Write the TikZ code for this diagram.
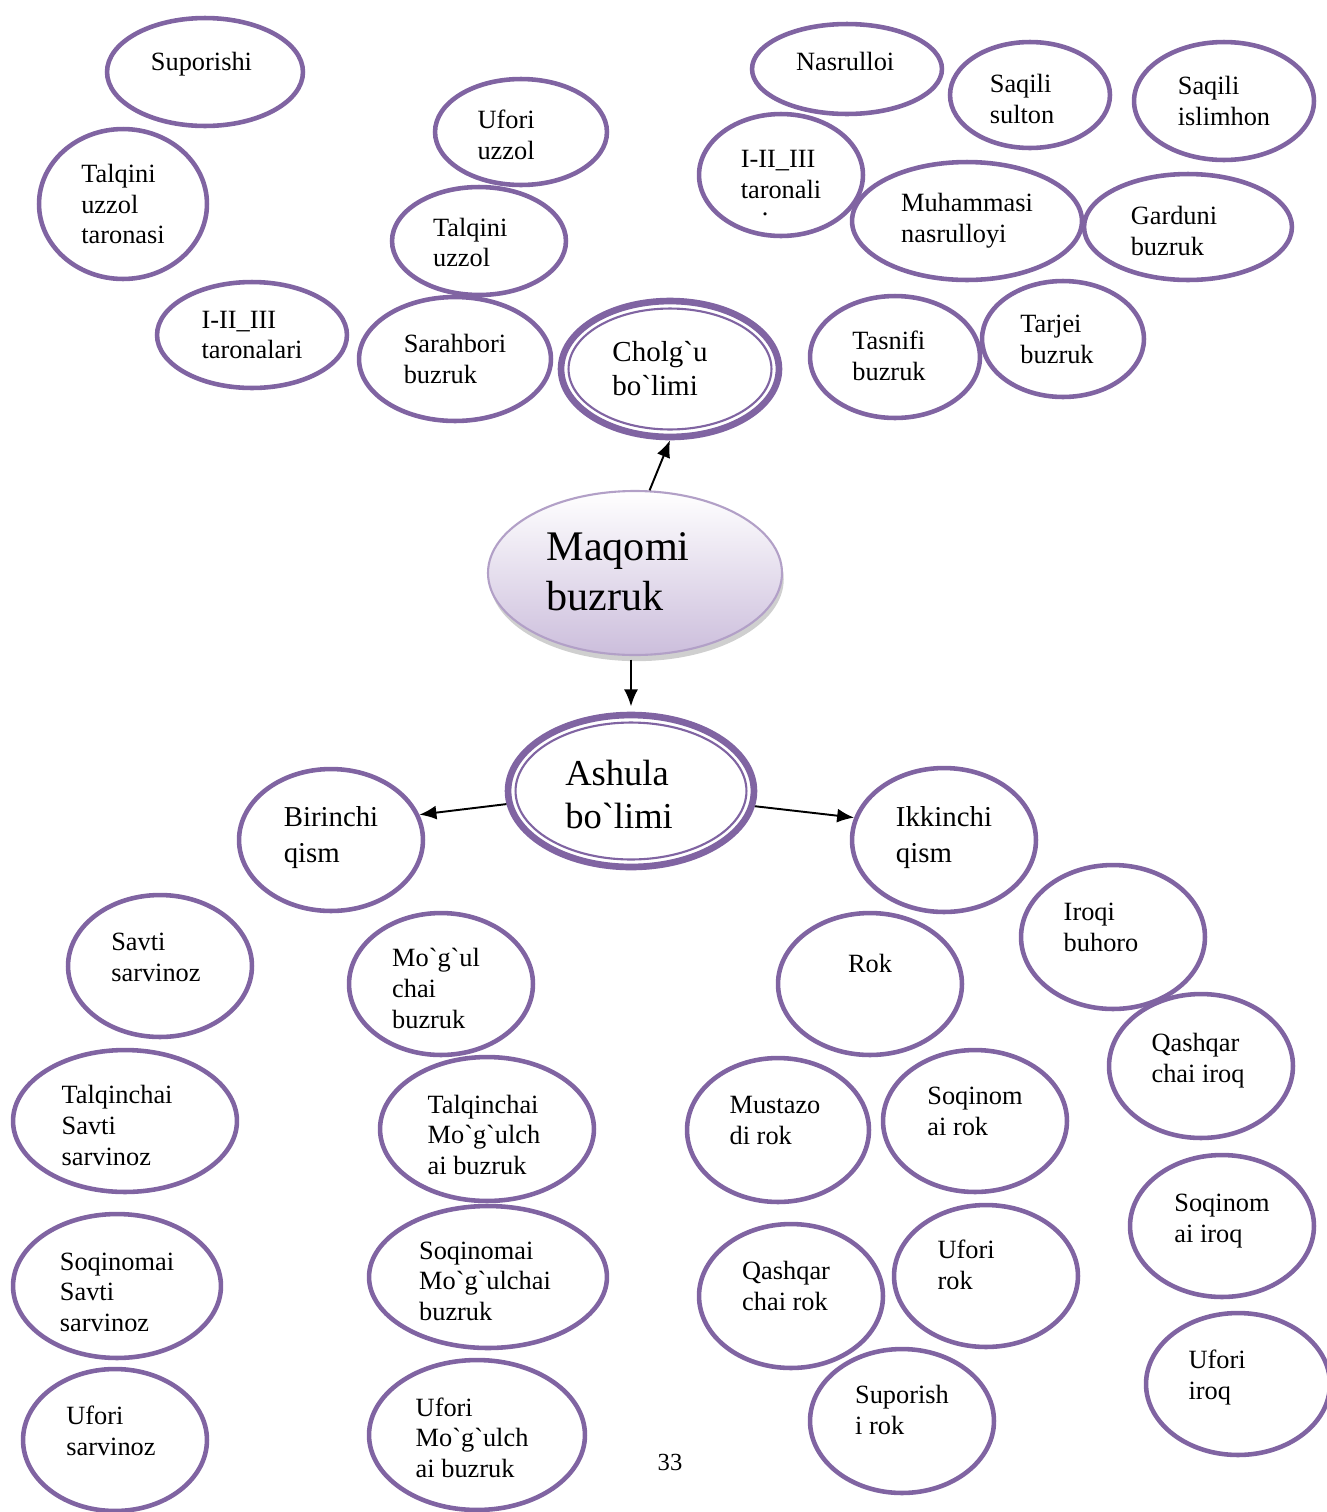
\documentclass[tikz,border=0pt]{standalone}
\usepackage{fontspec}
\setmainfont{Liberation Serif}[Ligatures=TeXOff]
\usetikzlibrary{arrows.meta,shapes.geometric,shadows}

\definecolor{ovalpurple}{RGB}{128,100,162}
\definecolor{centrefill}{RGB}{204,190,220}
\definecolor{centreline}{RGB}{178,160,199}

% text set a little off the middle of its oval: {x shift}{y shift}{lines}
\newcommand{\ovaltext}[3]{\kern#1\raisebox{\dimexpr#2-1.5pt\relax}[\height][\depth]{\begin{tabular}{@{}l@{}}#3\end{tabular}}\kern-#1\relax}

\begin{document}
\begin{tikzpicture}[
    x=0.02cm, y=-0.02cm,
    >={Latex[length=3.4mm,width=2.8mm]},
    oval/.style 2 args={ellipse, draw=ovalpurple, line width=2.6pt, fill=white, inner sep=0pt, align=left,
      minimum width=#1*0.04cm, minimum height=#2*0.04cm, font=\fontsize{15}{17.5}\selectfont},
    bigoval/.style 2 args={oval={#1}{#2}, line width=3.8pt},
    ring/.style 2 args={ellipse, draw=ovalpurple, line width=1.2pt, inner sep=0pt,
      minimum width=#1*0.04cm, minimum height=#2*0.04cm},
    link/.style={->, line width=1.1pt}
    ]
    \useasboundingbox (0,0) rectangle (1327,1512);

    % Centre: Maqomi buzruk
    \node[ellipse, draw=centreline, line width=1.2pt, top color=white, bottom color=centrefill,
      drop shadow={shadow xshift=1pt, shadow yshift=-3.5pt, fill=gray!75},
      minimum width=294*0.02cm, minimum height=164*0.02cm, align=left,
      font=\fontsize{24}{28}\selectfont] (maqomi) at (635,573) {\ovaltext{-9.6pt}{0pt}{Maqomi\\buzruk}};

    % Cholg`u bo`limi and its ovals
    \node[bigoval={109}{68}, font=\fontsize{16.5}{19.5}\selectfont] (cholgu) at (670,369) {\ovaltext{-5.7pt}{0pt}{Cholg`u\\bo`limi}};
    \node[ring={101.5}{60.5}] (cholguring) at (cholgu) {};

    \node[oval={98}{54}] (suporishi) at (205,72) {\ovaltext{-2pt}{6pt}{Suporishi}};
    \node[oval={84}{75}] (talqiniuzzoltar) at (123,204) {Talqini\\uzzol\\taronasi};
    \node[oval={95}{53}] (taronalari) at (252,335) {I-II\_III\\taronalari};
    \node[oval={86}{53}] (uforiuzzol) at (521,132) {\ovaltext{-8.5pt}{-1.7pt}{Ufori\\uzzol}};
    \node[oval={87}{54}] (talqiniuzzol) at (479,241) {\ovaltext{-5pt}{-1pt}{Talqini\\uzzol}};
    \node[oval={96}{62}] (sarahbori) at (455,359) {Sarahbori\\buzruk};

    \node[oval={95}{45}] (nasrulloi) at (847,69) {\ovaltext{-1pt}{4pt}{Nasrulloi}};
    \node[oval={80}{53}] (saqilisulton) at (1030,95) {\ovaltext{-4.5pt}{-2.3pt}{Saqili\\sulton}};
    \node[oval={90}{59}] (saqiliislimhon) at (1224,101) {Saqili\\islimhon};
    \node[oval={82}{61}] (taronali) at (781,175) {\ovaltext{0pt}{-4.5pt}{I-II\_III\\taronali\\[-8pt]\hspace{0.8em}.}};
    \node[oval={115}{59}] (muhammasi) at (967,221) {Muhammasi\\nasrulloyi};
    \node[oval={104}{53}] (garduni) at (1188,227) {\ovaltext{-8pt}{-2.3pt}{Garduni\\buzruk}};
    \node[oval={85}{61}] (tasnifi) at (895,357) {\ovaltext{-3.4pt}{0.5pt}{Tasnifi\\buzruk}};
    \node[oval={81}{58}] (tarjei) at (1063,339) {\ovaltext{-3.4pt}{0pt}{Tarjei\\buzruk}};

    % Ashula bo`limi
    \node[bigoval={123}{76}, font=\fontsize{20.8}{24}\selectfont] (ashula) at (631,791) {\ovaltext{-6.8pt}{-2.8pt}{Ashula\\bo`limi}};
    \node[ring={115.5}{68.5}] (ashularing) at (ashula) {};

    \node[oval={92}{71}, font=\fontsize{16.4}{20.4}\selectfont] (birinchi) at (331,840) {\ovaltext{0pt}{2.8pt}{Birinchi\\qism}};
    \node[oval={92}{72}, font=\fontsize{16.4}{20.4}\selectfont] (ikkinchi) at (944,840) {\ovaltext{0pt}{2.8pt}{Ikkinchi\\qism}};

    % Birinchi qism ovals
    \node[oval={92}{71}] (savti) at (160,966) {\ovaltext{-2.3pt}{5.1pt}{Savti\\sarvinoz}};
    \node[oval={112}{71}] (talqinchaisavti) at (125,1121) {\ovaltext{-4.5pt}{-2.8pt}{Talqinchai\\Savti\\sarvinoz}};
    \node[oval={104}{72}] (soqinomaisavti) at (117,1286) {\ovaltext{0pt}{-3.4pt}{Soqinomai\\Savti\\sarvinoz}};
    \node[oval={92}{71}] (uforisarvinoz) at (115,1440) {\ovaltext{-2.3pt}{5.1pt}{Ufori\\sarvinoz}};
    \node[oval={92}{71}] (mogulchai) at (441,984) {\ovaltext{-2.8pt}{-2.8pt}{Mo`g`ul\\chai\\buzruk}};
    \node[oval={107}{72}] (talqinchaimogul) at (487,1129) {\ovaltext{-1.7pt}{-3.4pt}{Talqinchai\\Mo`g`ulch\\ai buzruk}};
    \node[oval={119}{71}] (soqinomaimogul) at (488,1277) {\ovaltext{-1.7pt}{-2.3pt}{Soqinomai\\Mo`g`ulchai\\buzruk}};
    \node[oval={108}{75}] (uforimogul) at (477,1435) {\ovaltext{-2.8pt}{-1.7pt}{Ufori\\Mo`g`ulch\\ai buzruk}};

    % Ikkinchi qism ovals
    \node[oval={92}{71}] (rok) at (870,984) {\ovaltext{0pt}{2.8pt}{Rok\\\strut}};
    \node[oval={91}{72}] (mustazodi) at (778,1130) {\ovaltext{-1.7pt}{5.7pt}{Mustazo\\di rok}};
    \node[oval={92}{71}] (soqinomairok) at (975,1121) {\ovaltext{0pt}{5.7pt}{Soqinom\\ai rok}};
    \node[oval={92}{72}] (qashqarrok) at (791,1296) {\ovaltext{-2.8pt}{5.7pt}{Qashqar\\chai rok}};
    \node[oval={92}{71}] (uforirok) at (986,1276) {\ovaltext{-11.3pt}{6.2pt}{Ufori\\rok}};
    \node[oval={92}{72}] (suporishrok) at (902,1421) {\ovaltext{0pt}{6.2pt}{Suporish\\i rok}};
    \node[oval={92}{72}] (iroqi) at (1113,937) {\ovaltext{-6.8pt}{5.7pt}{Iroqi\\buhoro}};
    \node[oval={92}{72}] (qashqariroq) at (1201,1066) {\ovaltext{-1.7pt}{4.5pt}{Qashqar\\chai iroq}};
    \node[oval={92}{71}] (soqinomairoq) at (1222,1226) {\ovaltext{0pt}{4.5pt}{Soqinom\\ai iroq}};
    \node[oval={92}{71}] (uforiiroq) at (1238,1384) {\ovaltext{-11.9pt}{5.1pt}{Ufori\\iroq}};

    % page number
    \node[font=\fontsize{14}{16}\selectfont] (pagenum) at (670,1462) {33};

    % Arrows
    \draw[link] (maqomi.80) -- (cholgu.south);
    \draw[link, shorten <=2pt, shorten >=3pt] (maqomi.south -| ashula.north) -- (ashula.north);
    \draw[link] (ashula.186) -- (birinchi.16);
    \draw[link] (ashula.353) -- (ikkinchi.166);

  \end{tikzpicture}
\end{document}
